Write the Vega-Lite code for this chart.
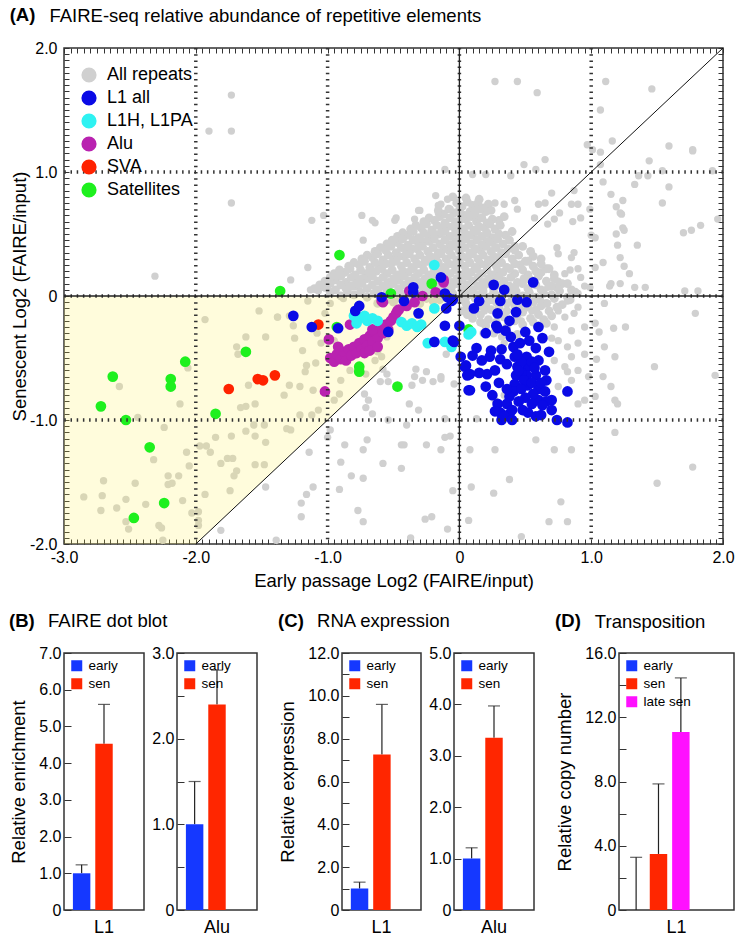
{
"$schema": "https://vega.github.io/schema/vega-lite/v6.json",
"padding": {"left": 9, "top": 5, "right": 1, "bottom": 0},
"datasets": {
"core": [
{"x":-0.05,"y":0.80},{"x":0.05,"y":0.79},{"x":0.15,"y":0.78},{"x":0.22,"y":0.74},
{"x":0.02,"y":0.72},{"x":0.10,"y":0.73},{"x":0.18,"y":0.71},
{"x":-0.02,"y":0.75},{"x":0.06,"y":0.76},{"x":0.14,"y":0.75},
{"x":-0.12,"y":0.66},{"x":-0.04,"y":0.67},{"x":0.04,"y":0.65},{"x":0.12,"y":0.66},{"x":0.20,"y":0.68},
{"x":-0.16,"y":0.69},{"x":-0.08,"y":0.70},{"x":0.00,"y":0.69},{"x":0.08,"y":0.68},{"x":0.16,"y":0.70},{"x":0.24,"y":0.69},
{"x":-0.27,"y":0.60},{"x":-0.19,"y":0.61},{"x":-0.11,"y":0.59},{"x":-0.03,"y":0.60},{"x":0.05,"y":0.62},{"x":0.13,"y":0.60},{"x":0.21,"y":0.59},{"x":0.30,"y":0.61},
{"x":-0.23,"y":0.63},{"x":-0.15,"y":0.64},{"x":-0.07,"y":0.63},{"x":0.01,"y":0.62},{"x":0.09,"y":0.64},{"x":0.17,"y":0.63},{"x":0.25,"y":0.62},{"x":0.34,"y":0.64},
{"x":-0.37,"y":0.54},{"x":-0.29,"y":0.55},{"x":-0.21,"y":0.53},{"x":-0.13,"y":0.54},{"x":-0.05,"y":0.56},{"x":0.03,"y":0.54},{"x":0.11,"y":0.53},{"x":0.19,"y":0.55},{"x":0.27,"y":0.54},
{"x":-0.33,"y":0.57},{"x":-0.25,"y":0.58},{"x":-0.17,"y":0.57},{"x":-0.09,"y":0.56},{"x":-0.01,"y":0.58},{"x":0.07,"y":0.57},{"x":0.15,"y":0.56},{"x":0.23,"y":0.58},{"x":0.31,"y":0.57},
{"x":-0.47,"y":0.48},{"x":-0.39,"y":0.49},{"x":-0.31,"y":0.47},{"x":-0.23,"y":0.48},{"x":-0.15,"y":0.50},{"x":-0.07,"y":0.48},{"x":0.01,"y":0.47},{"x":0.09,"y":0.49},{"x":0.17,"y":0.48},{"x":0.25,"y":0.47},{"x":0.35,"y":0.49},
{"x":-0.43,"y":0.51},{"x":-0.35,"y":0.52},{"x":-0.27,"y":0.51},{"x":-0.19,"y":0.50},{"x":-0.11,"y":0.52},{"x":-0.03,"y":0.51},{"x":0.05,"y":0.50},{"x":0.13,"y":0.52},{"x":0.21,"y":0.51},{"x":0.30,"y":0.50},{"x":0.40,"y":0.52},
{"x":-0.55,"y":0.42},{"x":-0.47,"y":0.43},{"x":-0.39,"y":0.41},{"x":-0.31,"y":0.42},{"x":-0.23,"y":0.44},{"x":-0.15,"y":0.42},{"x":-0.07,"y":0.41},{"x":0.01,"y":0.43},{"x":0.09,"y":0.42},{"x":0.17,"y":0.41},{"x":0.25,"y":0.43},{"x":0.33,"y":0.42},{"x":0.42,"y":0.40},
{"x":-0.51,"y":0.45},{"x":-0.43,"y":0.46},{"x":-0.35,"y":0.45},{"x":-0.27,"y":0.44},{"x":-0.19,"y":0.46},{"x":-0.11,"y":0.45},{"x":-0.03,"y":0.44},{"x":0.05,"y":0.46},{"x":0.13,"y":0.45},{"x":0.21,"y":0.44},{"x":0.29,"y":0.46},{"x":0.38,"y":0.45},
{"x":-0.64,"y":0.36},{"x":-0.56,"y":0.37},{"x":-0.48,"y":0.35},{"x":-0.40,"y":0.36},{"x":-0.32,"y":0.38},{"x":-0.24,"y":0.36},{"x":-0.16,"y":0.35},{"x":-0.08,"y":0.37},{"x":0.00,"y":0.36},{"x":0.08,"y":0.35},{"x":0.16,"y":0.37},{"x":0.24,"y":0.36},{"x":0.32,"y":0.35},{"x":0.42,"y":0.37},{"x":0.54,"y":0.36},
{"x":-0.60,"y":0.39},{"x":-0.52,"y":0.40},{"x":-0.44,"y":0.39},{"x":-0.36,"y":0.38},{"x":-0.28,"y":0.40},{"x":-0.20,"y":0.39},{"x":-0.12,"y":0.38},{"x":-0.04,"y":0.40},{"x":0.04,"y":0.39},{"x":0.12,"y":0.38},{"x":0.20,"y":0.40},{"x":0.28,"y":0.39},{"x":0.37,"y":0.38},{"x":0.48,"y":0.40},
{"x":-0.74,"y":0.30},{"x":-0.66,"y":0.31},{"x":-0.58,"y":0.29},{"x":-0.50,"y":0.30},{"x":-0.42,"y":0.32},{"x":-0.34,"y":0.30},{"x":-0.26,"y":0.29},{"x":-0.18,"y":0.31},{"x":-0.10,"y":0.30},{"x":-0.02,"y":0.29},{"x":0.06,"y":0.31},{"x":0.14,"y":0.30},{"x":0.22,"y":0.29},{"x":0.30,"y":0.31},{"x":0.40,"y":0.30},{"x":0.50,"y":0.28},{"x":0.62,"y":0.30},
{"x":-0.70,"y":0.33},{"x":-0.62,"y":0.34},{"x":-0.54,"y":0.33},{"x":-0.46,"y":0.32},{"x":-0.38,"y":0.34},{"x":-0.30,"y":0.33},{"x":-0.22,"y":0.32},{"x":-0.14,"y":0.34},{"x":-0.06,"y":0.33},{"x":0.02,"y":0.32},{"x":0.10,"y":0.34},{"x":0.18,"y":0.33},{"x":0.26,"y":0.32},{"x":0.35,"y":0.34},{"x":0.45,"y":0.33},{"x":0.56,"y":0.32},
{"x":-0.84,"y":0.24},{"x":-0.76,"y":0.25},{"x":-0.68,"y":0.23},{"x":-0.60,"y":0.24},{"x":-0.52,"y":0.26},{"x":-0.44,"y":0.24},{"x":-0.36,"y":0.23},{"x":-0.28,"y":0.25},{"x":-0.20,"y":0.24},{"x":-0.12,"y":0.23},{"x":-0.04,"y":0.25},{"x":0.04,"y":0.24},{"x":0.12,"y":0.23},{"x":0.20,"y":0.25},{"x":0.28,"y":0.24},{"x":0.36,"y":0.23},{"x":0.46,"y":0.25},{"x":0.56,"y":0.24},{"x":0.66,"y":0.22},
{"x":-0.80,"y":0.27},{"x":-0.72,"y":0.28},{"x":-0.64,"y":0.27},{"x":-0.56,"y":0.26},{"x":-0.48,"y":0.28},{"x":-0.40,"y":0.27},{"x":-0.32,"y":0.26},{"x":-0.24,"y":0.28},{"x":-0.16,"y":0.27},{"x":-0.08,"y":0.26},{"x":0.00,"y":0.28},{"x":0.08,"y":0.27},{"x":0.16,"y":0.26},{"x":0.24,"y":0.28},{"x":0.32,"y":0.27},{"x":0.42,"y":0.26},{"x":0.52,"y":0.28},{"x":0.62,"y":0.26},
{"x":-0.95,"y":0.18},{"x":-0.87,"y":0.19},{"x":-0.79,"y":0.17},{"x":-0.71,"y":0.18},{"x":-0.63,"y":0.20},{"x":-0.55,"y":0.18},{"x":-0.47,"y":0.17},{"x":-0.39,"y":0.19},{"x":-0.31,"y":0.18},{"x":-0.23,"y":0.17},{"x":-0.15,"y":0.19},{"x":-0.07,"y":0.18},{"x":0.01,"y":0.17},{"x":0.09,"y":0.19},{"x":0.17,"y":0.18},{"x":0.25,"y":0.17},{"x":0.33,"y":0.19},{"x":0.42,"y":0.18},{"x":0.52,"y":0.17},{"x":0.62,"y":0.19},{"x":0.72,"y":0.17},
{"x":-0.91,"y":0.21},{"x":-0.83,"y":0.22},{"x":-0.75,"y":0.21},{"x":-0.67,"y":0.20},{"x":-0.59,"y":0.22},{"x":-0.51,"y":0.21},{"x":-0.43,"y":0.20},{"x":-0.35,"y":0.22},{"x":-0.27,"y":0.21},{"x":-0.19,"y":0.20},{"x":-0.11,"y":0.22},{"x":-0.03,"y":0.21},{"x":0.05,"y":0.20},{"x":0.13,"y":0.22},{"x":0.21,"y":0.21},{"x":0.29,"y":0.20},{"x":0.38,"y":0.22},{"x":0.48,"y":0.21},{"x":0.58,"y":0.20},{"x":0.68,"y":0.22},
{"x":-1.02,"y":0.12},{"x":-0.94,"y":0.13},{"x":-0.86,"y":0.11},{"x":-0.78,"y":0.12},{"x":-0.70,"y":0.14},{"x":-0.62,"y":0.12},{"x":-0.54,"y":0.11},{"x":-0.46,"y":0.13},{"x":-0.38,"y":0.12},{"x":-0.30,"y":0.11},{"x":-0.22,"y":0.13},{"x":-0.14,"y":0.12},{"x":-0.06,"y":0.11},{"x":0.02,"y":0.13},{"x":0.10,"y":0.12},{"x":0.18,"y":0.11},{"x":0.26,"y":0.13},{"x":0.34,"y":0.12},{"x":0.44,"y":0.11},{"x":0.54,"y":0.13},{"x":0.66,"y":0.12},{"x":0.78,"y":0.10},
{"x":-0.98,"y":0.15},{"x":-0.90,"y":0.16},{"x":-0.82,"y":0.15},{"x":-0.74,"y":0.14},{"x":-0.66,"y":0.16},{"x":-0.58,"y":0.15},{"x":-0.50,"y":0.14},{"x":-0.42,"y":0.16},{"x":-0.34,"y":0.15},{"x":-0.26,"y":0.14},{"x":-0.18,"y":0.16},{"x":-0.10,"y":0.15},{"x":-0.02,"y":0.14},{"x":0.06,"y":0.16},{"x":0.14,"y":0.15},{"x":0.22,"y":0.14},{"x":0.30,"y":0.16},{"x":0.39,"y":0.15},{"x":0.49,"y":0.14},{"x":0.60,"y":0.16},{"x":0.72,"y":0.14},
{"x":-1.10,"y":0.06},{"x":-1.02,"y":0.07},{"x":-0.94,"y":0.05},{"x":-0.86,"y":0.06},{"x":-0.78,"y":0.08},{"x":-0.70,"y":0.06},{"x":-0.62,"y":0.05},{"x":-0.54,"y":0.07},{"x":-0.46,"y":0.06},{"x":-0.38,"y":0.05},{"x":-0.30,"y":0.07},{"x":-0.22,"y":0.06},{"x":-0.14,"y":0.05},{"x":-0.06,"y":0.07},{"x":0.02,"y":0.06},{"x":0.10,"y":0.05},{"x":0.18,"y":0.07},{"x":0.26,"y":0.06},{"x":0.34,"y":0.05},{"x":0.42,"y":0.07},{"x":0.52,"y":0.06},{"x":0.62,"y":0.05},{"x":0.74,"y":0.07},{"x":0.85,"y":0.05},
{"x":-1.06,"y":0.09},{"x":-0.98,"y":0.10},{"x":-0.90,"y":0.09},{"x":-0.82,"y":0.08},{"x":-0.74,"y":0.10},{"x":-0.66,"y":0.09},{"x":-0.58,"y":0.08},{"x":-0.50,"y":0.10},{"x":-0.42,"y":0.09},{"x":-0.34,"y":0.08},{"x":-0.26,"y":0.10},{"x":-0.18,"y":0.09},{"x":-0.10,"y":0.08},{"x":-0.02,"y":0.10},{"x":0.06,"y":0.09},{"x":0.14,"y":0.08},{"x":0.22,"y":0.10},{"x":0.30,"y":0.09},{"x":0.38,"y":0.08},{"x":0.48,"y":0.10},{"x":0.58,"y":0.09},{"x":0.70,"y":0.08},{"x":0.82,"y":0.10},
{"x":-0.90,"y":0.00},{"x":-0.80,"y":0.01},{"x":-0.70,"y":-0.01},{"x":-0.60,"y":0.00},{"x":-0.50,"y":0.02},{"x":-0.40,"y":0.00},{"x":-0.30,"y":-0.01},{"x":-0.20,"y":0.01},{"x":-0.10,"y":0.00},{"x":0.06,"y":0.00},{"x":0.14,"y":0.01},{"x":0.22,"y":-0.01},{"x":0.30,"y":0.00},{"x":0.38,"y":0.02},{"x":0.48,"y":0.00},{"x":0.58,"y":-0.01},{"x":0.70,"y":0.01},{"x":0.82,"y":-0.01},
{"x":-0.98,"y":0.03},{"x":-0.85,"y":0.04},{"x":-0.75,"y":0.03},{"x":-0.65,"y":0.02},{"x":-0.55,"y":0.04},{"x":-0.45,"y":0.03},{"x":-0.35,"y":0.02},{"x":-0.25,"y":0.04},{"x":-0.15,"y":0.03},{"x":-0.05,"y":0.02},{"x":0.04,"y":0.03},{"x":0.10,"y":0.02},{"x":0.18,"y":0.04},{"x":0.26,"y":0.03},{"x":0.34,"y":0.02},{"x":0.43,"y":0.04},{"x":0.53,"y":0.03},{"x":0.64,"y":0.02},{"x":0.76,"y":0.04},{"x":0.88,"y":0.03},
{"x":-0.62,"y":-0.06},{"x":-0.50,"y":-0.05},{"x":-0.40,"y":-0.07},{"x":-0.30,"y":-0.06},{"x":-0.20,"y":-0.04},{"x":0.05,"y":-0.06},{"x":0.20,"y":-0.07},{"x":0.28,"y":-0.05},{"x":0.36,"y":-0.06},{"x":0.46,"y":-0.07},{"x":0.56,"y":-0.05},{"x":0.66,"y":-0.06},{"x":0.78,"y":-0.07},
{"x":-0.55,"y":-0.03},{"x":-0.45,"y":-0.02},{"x":-0.35,"y":-0.03},{"x":-0.25,"y":-0.02},{"x":-0.15,"y":-0.03},{"x":0.02,"y":-0.03},{"x":0.12,"y":-0.02},{"x":0.24,"y":-0.03},{"x":0.32,"y":-0.02},{"x":0.40,"y":-0.03},{"x":0.50,"y":-0.02},{"x":0.61,"y":-0.03},{"x":0.72,"y":-0.02},{"x":0.84,"y":-0.03},
{"x":0.02,"y":-0.12},{"x":0.10,"y":-0.13},{"x":0.24,"y":-0.11},{"x":0.36,"y":-0.12},{"x":0.48,"y":-0.13},{"x":0.58,"y":-0.11},{"x":0.68,"y":-0.12},
{"x":0.06,"y":-0.09},{"x":0.16,"y":-0.08},{"x":0.30,"y":-0.09},{"x":0.42,"y":-0.08},{"x":0.52,"y":-0.09},{"x":0.62,"y":-0.08},{"x":0.74,"y":-0.09},
{"x":0.10,"y":-0.18},{"x":0.22,"y":-0.19},{"x":0.34,"y":-0.17},{"x":0.54,"y":-0.18},{"x":0.64,"y":-0.19},
{"x":0.06,"y":-0.15},{"x":0.16,"y":-0.15},{"x":0.28,"y":-0.14},{"x":0.44,"y":-0.15},{"x":0.60,"y":-0.15},{"x":0.70,"y":-0.16},
{"x":0.20,"y":-0.24},{"x":0.36,"y":-0.25},{"x":0.48,"y":-0.23},{"x":0.60,"y":-0.24},
{"x":0.16,"y":-0.21},{"x":0.28,"y":-0.21},{"x":0.42,"y":-0.20},{"x":0.56,"y":-0.21},{"x":0.66,"y":-0.22},
{"x":0.26,"y":-0.30},{"x":0.44,"y":-0.31}
],
"all": [
{"x":-1.73,"y":1.62},{"x":-1.90,"y":1.33},{"x":-1.73,"y":1.33},{"x":-1.73,"y":0.75},{"x":-2.31,"y":0.16},{"x":-0.11,"y":1.02},{"x":-0.18,"y":0.81},{"x":-0.31,"y":0.69},{"x":-0.16,"y":0.67},{"x":-0.74,"y":0.65},{"x":-0.66,"y":0.61},{"x":-0.48,"y":0.63},{"x":-1.03,"y":0.65},{"x":-1.12,"y":0.61},{"x":-0.73,"y":0.45},{"x":-1.15,"y":0.23},{"x":-1.28,"y":0.13},{"x":-0.64,"y":0.59},{"x":-0.49,"y":0.61},{"x":-0.34,"y":0.62},{"x":-0.09,"y":0.78},{"x":-0.14,"y":0.74},{"x":-0.07,"y":0.70},{"x":-0.30,"y":0.69},{"x":-0.25,"y":0.58},
{"x":-1.13,"y":0.05},{"x":-1.07,"y":0.04},{"x":-1.01,"y":0.07},
{"x":0.49,"y":1.06},{"x":0.58,"y":1.02},{"x":0.65,"y":1.10},{"x":0.10,"y":0.98},{"x":0.20,"y":0.98},{"x":0.39,"y":0.97},{"x":1.07,"y":1.06},{"x":1.09,"y":0.92},{"x":1.33,"y":0.90},{"x":1.36,"y":0.97},{"x":1.43,"y":0.97},{"x":1.44,"y":1.09},{"x":1.54,"y":1.01},{"x":1.59,"y":0.88},{"x":1.92,"y":1.01},{"x":1.77,"y":1.17},{"x":1.15,"y":0.82},{"x":1.24,"y":0.77},{"x":1.19,"y":0.72},{"x":1.22,"y":0.67},{"x":1.23,"y":0.66},{"x":1.54,"y":0.75},{"x":1.70,"y":0.51},{"x":1.76,"y":0.53},{"x":1.83,"y":0.57},{"x":1.96,"y":0.62},{"x":1.00,"y":0.49},{"x":1.03,"y":0.47},{"x":1.24,"y":0.55},{"x":1.25,"y":0.53},{"x":1.19,"y":0.50},{"x":1.35,"y":0.41},{"x":1.20,"y":0.41},{"x":1.09,"y":0.27},{"x":1.22,"y":0.31},{"x":1.25,"y":0.24},{"x":1.29,"y":0.18},{"x":1.14,"y":0.08},{"x":1.22,"y":0.10},{"x":1.33,"y":0.07},{"x":1.41,"y":0.07},{"x":1.71,"y":0.04},{"x":1.81,"y":0.04},
{"x":0.27,"y":1.73},{"x":0.44,"y":1.73},{"x":0.59,"y":1.64},{"x":1.11,"y":1.73},{"x":1.46,"y":1.67},{"x":1.07,"y":1.50},{"x":0.97,"y":1.22},{"x":1.01,"y":1.18},{"x":1.07,"y":1.16},{"x":1.16,"y":1.25},{"x":1.59,"y":1.21},{"x":1.77,"y":1.18},
{"x":0.70,"y":0.83},{"x":0.87,"y":0.85},{"x":0.85,"y":0.74},{"x":0.90,"y":0.74},{"x":0.99,"y":0.70},{"x":0.92,"y":0.63},{"x":0.86,"y":0.60},{"x":0.76,"y":0.67},{"x":0.57,"y":0.63},{"x":0.67,"y":0.58},{"x":0.72,"y":0.62},{"x":0.74,"y":0.39},{"x":0.75,"y":0.34},{"x":0.85,"y":0.31},{"x":0.87,"y":0.35},{"x":0.80,"y":0.18},{"x":0.90,"y":0.22},{"x":0.95,"y":0.08},{"x":0.27,"y":0.75},{"x":0.34,"y":0.74},{"x":0.42,"y":0.77},{"x":0.44,"y":0.70},{"x":0.60,"y":0.74},{"x":0.65,"y":0.75},{"x":0.12,"y":0.69},{"x":0.08,"y":0.65},{"x":-0.16,"y":0.73},
{"x":0.67,"y":-0.06},{"x":0.75,"y":-0.12},{"x":0.80,"y":-0.17},{"x":0.87,"y":-0.14},{"x":0.90,"y":-0.09},{"x":0.72,"y":-0.25},{"x":0.85,"y":-0.28},{"x":0.95,"y":-0.25},{"x":1.03,"y":-0.22},{"x":1.06,"y":-0.29},{"x":0.75,"y":-0.36},{"x":0.82,"y":-0.41},{"x":0.90,"y":-0.38},{"x":0.85,"y":-0.49},{"x":0.95,"y":-0.47},{"x":0.72,"y":-0.52},{"x":0.80,"y":-0.57},{"x":0.90,"y":-0.60},{"x":0.85,"y":-0.68},{"x":0.98,"y":-0.65},{"x":0.75,"y":-0.73},{"x":1.03,"y":-0.81},{"x":1.15,"y":-0.73},{"x":1.10,"y":-0.41},{"x":1.17,"y":-0.26},{"x":1.18,"y":-0.49},{"x":0.99,"y":0.07},{"x":0.90,"y":0.02},{"x":0.82,"y":-0.04},{"x":0.72,"y":-0.01},{"x":0.67,"y":0.07},{"x":0.60,"y":0.18},{"x":0.75,"y":0.12},{"x":0.84,"y":0.21},{"x":0.92,"y":0.15},{"x":1.03,"y":0.23},{"x":1.15,"y":0.10},{"x":1.10,"y":-0.06},{"x":0.70,"y":-0.34},{"x":0.55,"y":-0.12},{"x":0.47,"y":-0.20},{"x":0.19,"y":-0.12},{"x":0.17,"y":-0.22},{"x":0.18,"y":-0.30},{"x":0.32,"y":-0.33},{"x":0.34,"y":-0.38},{"x":-0.14,"y":-0.65},{"x":-0.04,"y":-0.71},{"x":-0.11,"y":-1.14},{"x":0.90,"y":-0.87},{"x":0.95,"y":-0.84},{"x":1.18,"y":-0.84},{"x":0.27,"y":-0.84},{"x":0.34,"y":-0.80},
{"x":1.79,"y":-0.14},{"x":1.26,"y":-0.25},{"x":1.48,"y":-0.57},{"x":1.94,"y":-0.64},{"x":1.09,"y":-0.65},{"x":1.20,"y":-0.87},{"x":1.04,"y":-0.51},{"x":0.82,"y":-0.61},
{"x":1.18,"y":-1.10},{"x":0.58,"y":-1.16},{"x":0.72,"y":-1.24},{"x":0.85,"y":-1.24},{"x":0.08,"y":-1.24},{"x":0.27,"y":-1.24},{"x":-0.14,"y":-1.24},{"x":-0.07,"y":-1.13},{"x":0.13,"y":-0.99},{"x":0.38,"y":-1.48},{"x":0.09,"y":-1.54},{"x":-0.05,"y":-1.57},{"x":0.26,"y":-1.59},{"x":1.77,"y":-1.38},{"x":1.50,"y":-1.51},{"x":0.77,"y":-1.66},{"x":0.68,"y":-1.82},{"x":0.82,"y":-1.82},{"x":0.07,"y":-1.81},{"x":-0.09,"y":-1.88},{"x":0.47,"y":-1.94},
{"x":-1.29,"y":-0.16},{"x":-1.26,"y":-0.24},{"x":-1.19,"y":-0.44},{"x":-1.25,"y":-0.34},{"x":-1.38,"y":-0.17},{"x":-1.17,"y":-0.61},{"x":-1.16,"y":-0.56},{"x":-1.09,"y":-0.54},{"x":-1.29,"y":-0.72},{"x":-1.21,"y":-0.73},{"x":-1.33,"y":-0.80},{"x":-1.11,"y":-0.76},{"x":-1.07,"y":-0.92},{"x":-1.12,"y":-0.96},{"x":-1.21,"y":-0.96},{"x":-1.31,"y":-1.07},{"x":-1.28,"y":-1.08},{"x":-0.90,"y":-0.68},{"x":-0.83,"y":-0.60},{"x":-0.95,"y":-0.84},{"x":-0.91,"y":-0.79},{"x":-1.05,"y":-0.38},{"x":-0.92,"y":-0.45},{"x":-0.85,"y":-0.52},{"x":-0.64,"y":-0.52},{"x":-0.59,"y":-0.49},{"x":-0.62,"y":-0.45},{"x":-0.71,"y":-0.63},{"x":-0.58,"y":-0.59},{"x":-0.55,"y":-0.33},{"x":-0.72,"y":-0.79},{"x":-0.69,"y":-0.84},{"x":-0.71,"y":-0.90},{"x":-0.60,"y":-0.69},{"x":-0.54,"y":-0.69},{"x":-0.66,"y":-0.95},{"x":-0.54,"y":-1.00},{"x":-0.40,"y":-1.04},{"x":-0.55,"y":-0.63},{"x":-0.38,"y":-0.87},{"x":-0.31,"y":-0.92},{"x":-0.33,"y":-0.59},{"x":-0.25,"y":-0.61},{"x":-0.34,"y":-0.65},{"x":-0.28,"y":-0.68},{"x":-0.20,"y":-0.69},{"x":-0.14,"y":-0.67},{"x":-0.36,"y":-0.72},{"x":-0.11,"y":-0.99},{"x":-0.25,"y":-1.20},{"x":-0.44,"y":-1.20},{"x":-0.42,"y":-1.20},{"x":-0.70,"y":-1.16},{"x":-0.87,"y":-1.20},{"x":-0.73,"y":-1.24},{"x":-1.14,"y":-1.26},{"x":-0.58,"y":-1.35},{"x":-0.44,"y":-1.39},{"x":-0.90,"y":-1.34},{"x":-0.82,"y":-1.45},{"x":-0.73,"y":-1.47},{"x":-0.91,"y":-1.56},{"x":-1.11,"y":-1.54},{"x":-1.16,"y":-1.60},{"x":-1.20,"y":-1.67},{"x":-1.20,"y":-1.78},{"x":-0.77,"y":-1.73},{"x":-0.73,"y":-1.82},{"x":-0.26,"y":-1.80},{"x":-0.21,"y":-1.78},{"x":-0.37,"y":-1.95},{"x":-1.39,"y":-1.97},{"x":-1.00,"y":-1.14},{"x":-0.98,"y":-1.08},
{"x":-1.15,"y":-0.04},{"x":-1.02,"y":-0.14},{"x":-0.98,"y":-0.06},{"x":-0.88,"y":-0.02},{"x":-1.08,"y":-0.30},{"x":-0.95,"y":-0.36},{"x":-0.10,"y":-0.47},
{"x":-1.52,"y":-0.12},{"x":-1.93,"y":-0.19},{"x":-1.62,"y":-0.33},{"x":-1.47,"y":-0.33},{"x":-1.69,"y":-0.41},{"x":-1.68,"y":-0.47},{"x":-2.58,"y":-0.73},{"x":-1.60,"y":-0.72},{"x":-2.12,"y":-0.87},{"x":-1.66,"y":-0.90},{"x":-1.62,"y":-0.89},{"x":-1.55,"y":-0.87},{"x":-2.44,"y":-0.98},{"x":-2.24,"y":-1.06},{"x":-1.85,"y":-1.14},{"x":-1.73,"y":-1.13},{"x":-1.62,"y":-1.09},{"x":-1.56,"y":-1.04},{"x":-1.55,"y":-1.13},{"x":-1.47,"y":-1.18},{"x":-1.48,"y":-1.04},{"x":-1.97,"y":-1.21},{"x":-1.92,"y":-1.21},{"x":-1.89,"y":-1.26},{"x":-2.07,"y":-1.26},{"x":-2.32,"y":-1.32},{"x":-1.81,"y":-1.35},{"x":-1.76,"y":-1.31},{"x":-1.72,"y":-1.31},{"x":-1.55,"y":-1.36},{"x":-1.48,"y":-1.36},{"x":-2.05,"y":-1.37},{"x":-1.69,"y":-1.41},{"x":-1.71,"y":-1.45},{"x":-2.70,"y":-1.49},{"x":-2.21,"y":-1.45},{"x":-2.13,"y":-1.45},{"x":-2.21,"y":-1.52},{"x":-2.18,"y":-1.51},{"x":-2.46,"y":-1.51},{"x":-2.85,"y":-1.62},{"x":-2.71,"y":-1.61},{"x":-2.53,"y":-1.64},{"x":-2.72,"y":-1.73},{"x":-2.60,"y":-1.71},{"x":-2.38,"y":-1.68},{"x":-2.10,"y":-1.65},{"x":-1.93,"y":-1.60},{"x":-1.74,"y":-1.57},{"x":-2.03,"y":-1.75},{"x":-1.98,"y":-1.74},{"x":-1.98,"y":-1.81},{"x":-1.98,"y":-1.85},{"x":-2.28,"y":-1.85},{"x":-2.26,"y":-1.87},{"x":-2.53,"y":-1.82},{"x":-2.51,"y":-1.88},{"x":-2.25,"y":-1.97},{"x":-1.47,"y":-1.54},{"x":-1.81,"y":-1.89},{"x":-2.06,"y":-0.58},{"x":-1.38,"y":-0.17}
],
"fam": [
{"t":"Satellites","x":-2.63,"y":-0.65},{"t":"Satellites","x":-2.08,"y":-0.53},{"t":"Satellites","x":-2.19,"y":-0.67},{"t":"Satellites","x":-2.19,"y":-0.73},{"t":"Satellites","x":-2.72,"y":-0.89},{"t":"Satellites","x":-2.53,"y":-1.00},{"t":"Satellites","x":-2.35,"y":-1.22},{"t":"Satellites","x":-2.24,"y":-1.67},{"t":"Satellites","x":-2.47,"y":-1.79},{"t":"Satellites","x":-1.62,"y":-0.45},{"t":"Satellites","x":-1.85,"y":-0.95},{"t":"Satellites","x":-1.36,"y":0.04},{"t":"Satellites","x":-0.93,"y":-0.25},{"t":"Satellites","x":-0.76,"y":-0.57},{"t":"Satellites","x":-0.76,"y":-0.61},{"t":"Satellites","x":-0.47,"y":-0.73},{"t":"Satellites","x":-0.52,"y":0.02},{"t":"Satellites","x":-0.21,"y":0.10},{"t":"Satellites","x":0.07,"y":-0.27},{"t":"Satellites","x":-0.91,"y":0.33},
{"t":"SVA","x":-1.75,"y":-0.75},{"t":"SVA","x":-1.53,"y":-0.67},{"t":"SVA","x":-1.49,"y":-0.68},{"t":"SVA","x":-1.40,"y":-0.64},{"t":"SVA","x":-1.07,"y":-0.23},
{"t":"Alu","x":-1.02,"y":-0.77},{"t":"Alu","x":-0.99,"y":-0.35},{"t":"Alu","x":-0.83,"y":-0.23},{"t":"Alu","x":-0.59,"y":-0.04},{"t":"Alu","x":-0.38,"y":0.04},{"t":"Alu","x":-0.34,"y":-0.05},{"t":"Alu","x":-0.28,"y":0.00},{"t":"Alu","x":-0.18,"y":0.03},{"t":"Alu","x":-0.12,"y":0.11},{"t":"Alu","x":-0.12,"y":0.13},{"t":"Alu","x":-0.58,"y":-0.05},{"t":"Alu","x":-0.47,"y":-0.12},{"t":"Alu","x":-0.40,"y":-0.08},
{"t":"Alu","x":-0.98,"y":-0.50},{"t":"Alu","x":-0.95,"y":-0.53},{"t":"Alu","x":-0.93,"y":-0.47},{"t":"Alu","x":-0.90,"y":-0.51},{"t":"Alu","x":-0.88,"y":-0.45},{"t":"Alu","x":-0.86,"y":-0.52},{"t":"Alu","x":-0.84,"y":-0.43},{"t":"Alu","x":-0.82,"y":-0.48},{"t":"Alu","x":-0.80,"y":-0.41},{"t":"Alu","x":-0.78,"y":-0.46},{"t":"Alu","x":-0.76,"y":-0.38},{"t":"Alu","x":-0.74,"y":-0.43},{"t":"Alu","x":-0.72,"y":-0.35},{"t":"Alu","x":-0.70,"y":-0.40},{"t":"Alu","x":-0.68,"y":-0.32},{"t":"Alu","x":-0.66,"y":-0.37},{"t":"Alu","x":-0.64,"y":-0.29},{"t":"Alu","x":-0.62,"y":-0.34},{"t":"Alu","x":-0.60,"y":-0.26},{"t":"Alu","x":-0.58,"y":-0.30},{"t":"Alu","x":-0.56,"y":-0.23},{"t":"Alu","x":-0.54,"y":-0.27},{"t":"Alu","x":-0.52,"y":-0.20},{"t":"Alu","x":-0.50,"y":-0.17},{"t":"Alu","x":-0.48,"y":-0.14},{"t":"Alu","x":-0.46,"y":-0.11},{"t":"Alu","x":-0.72,"y":-0.46},{"t":"Alu","x":-0.68,"y":-0.44},{"t":"Alu","x":-0.92,"y":-0.41},{"t":"Alu","x":-0.62,"y":-0.41},{"t":"Alu","x":-0.66,"y":-0.27},
{"t":"L1H, L1PA","x":-0.80,"y":-0.16},{"t":"L1H, L1PA","x":-0.76,"y":-0.18},{"t":"L1H, L1PA","x":-0.72,"y":-0.16},{"t":"L1H, L1PA","x":-0.70,"y":-0.20},{"t":"L1H, L1PA","x":-0.66,"y":-0.18},{"t":"L1H, L1PA","x":-0.62,"y":-0.20},{"t":"L1H, L1PA","x":-0.78,"y":-0.22},{"t":"L1H, L1PA","x":-0.44,"y":-0.21},{"t":"L1H, L1PA","x":-0.40,"y":-0.24},{"t":"L1H, L1PA","x":-0.36,"y":-0.22},{"t":"L1H, L1PA","x":-0.32,"y":-0.25},{"t":"L1H, L1PA","x":-0.29,"y":-0.23},{"t":"L1H, L1PA","x":-0.24,"y":-0.38},{"t":"L1H, L1PA","x":-0.11,"y":-0.37},{"t":"L1H, L1PA","x":-0.06,"y":-0.41},{"t":"L1H, L1PA","x":-0.19,"y":-0.10},{"t":"L1H, L1PA","x":-0.19,"y":0.25},{"t":"L1H, L1PA","x":0.09,"y":-0.29},{"t":"L1H, L1PA","x":0.07,"y":-0.31},
{"t":"L1 all","x":0.26,"y":0.09},{"t":"L1 all","x":0.34,"y":0.05},{"t":"L1 all","x":0.56,"y":0.11},{"t":"L1 all","x":0.15,"y":-0.04},{"t":"L1 all","x":0.11,"y":-0.10},{"t":"L1 all","x":0.31,"y":-0.04},{"t":"L1 all","x":0.44,"y":-0.03},{"t":"L1 all","x":0.51,"y":-0.05},{"t":"L1 all","x":0.29,"y":-0.14},{"t":"L1 all","x":0.43,"y":-0.13},{"t":"L1 all","x":0.38,"y":-0.20},{"t":"L1 all","x":0.28,"y":-0.24},{"t":"L1 all","x":0.29,"y":-0.26},{"t":"L1 all","x":0.60,"y":-0.25},{"t":"L1 all","x":0.50,"y":-0.29},{"t":"L1 all","x":0.39,"y":-0.33},{"t":"L1 all","x":0.63,"y":-0.34},{"t":"L1 all","x":0.53,"y":-0.36},{"t":"L1 all","x":0.41,"y":-0.41},{"t":"L1 all","x":0.58,"y":-0.42},{"t":"L1 all","x":0.13,"y":-0.42},{"t":"L1 all","x":0.24,"y":-0.44},{"t":"L1 all","x":0.32,"y":-0.43},{"t":"L1 all","x":0.10,"y":-0.48},{"t":"L1 all","x":0.17,"y":-0.52},{"t":"L1 all","x":0.23,"y":-0.49},{"t":"L1 all","x":0.31,"y":-0.51},{"t":"L1 all","x":0.42,"y":-0.49},{"t":"L1 all","x":0.51,"y":-0.49},{"t":"L1 all","x":0.60,"y":-0.52},{"t":"L1 all","x":0.44,"y":-0.57},{"t":"L1 all","x":0.52,"y":-0.57},{"t":"L1 all","x":0.65,"y":-0.60},{"t":"L1 all","x":0.43,"y":-0.64},{"t":"L1 all","x":0.51,"y":-0.64},{"t":"L1 all","x":0.58,"y":-0.64},{"t":"L1 all","x":0.66,"y":-0.68},{"t":"L1 all","x":0.42,"y":-0.71},{"t":"L1 all","x":0.52,"y":-0.72},{"t":"L1 all","x":0.60,"y":-0.75},{"t":"L1 all","x":0.65,"y":-0.77},{"t":"L1 all","x":0.82,"y":-0.77},{"t":"L1 all","x":0.41,"y":-0.77},{"t":"L1 all","x":0.20,"y":-0.73},{"t":"L1 all","x":0.21,"y":-0.63},{"t":"L1 all","x":0.08,"y":-0.76},{"t":"L1 all","x":0.06,"y":-0.64},{"t":"L1 all","x":0.04,"y":-0.57},{"t":"L1 all","x":0.01,"y":-0.49},{"t":"L1 all","x":0.38,"y":-0.81},{"t":"L1 all","x":0.60,"y":-0.84},{"t":"L1 all","x":0.70,"y":-0.84},{"t":"L1 all","x":0.29,"y":-0.87},{"t":"L1 all","x":0.36,"y":-0.87},{"t":"L1 all","x":0.31,"y":-0.94},{"t":"L1 all","x":0.38,"y":-0.95},{"t":"L1 all","x":0.32,"y":-1.00},{"t":"L1 all","x":0.52,"y":-0.94},{"t":"L1 all","x":0.58,"y":-0.97},{"t":"L1 all","x":0.62,"y":-0.96},{"t":"L1 all","x":0.74,"y":-1.00},{"t":"L1 all","x":0.82,"y":-1.02},{"t":"L1 all","x":0.47,"y":-0.53},{"t":"L1 all","x":0.47,"y":-0.62},{"t":"L1 all","x":0.55,"y":-0.53},{"t":"L1 all","x":0.45,"y":-0.60},{"t":"L1 all","x":0.49,"y":-0.68},{"t":"L1 all","x":0.55,"y":-0.70},{"t":"L1 all","x":0.47,"y":-0.75},{"t":"L1 all","x":0.56,"y":-0.79},{"t":"L1 all","x":0.50,"y":-0.82},{"t":"L1 all","x":0.45,"y":-0.85},{"t":"L1 all","x":0.55,"y":-0.87},{"t":"L1 all","x":0.62,"y":-0.70},{"t":"L1 all","x":0.57,"y":-0.58},{"t":"L1 all","x":0.40,"y":-0.92},{"t":"L1 all","x":0.34,"y":-0.97},
{"t":"L1 all","x":0.20,"y":-0.30},{"t":"L1 all","x":0.35,"y":-0.28},{"t":"L1 all","x":0.46,"y":-0.38},{"t":"L1 all","x":0.36,"y":-0.55},{"t":"L1 all","x":0.27,"y":-0.60},{"t":"L1 all","x":0.30,"y":-0.70},{"t":"L1 all","x":0.36,"y":-0.75},{"t":"L1 all","x":0.44,"y":-0.47},{"t":"L1 all","x":0.66,"y":-0.85},{"t":"L1 all","x":0.68,"y":-0.45},{"t":"L1 all","x":0.15,"y":-0.62},{"t":"L1 all","x":0.25,"y":-0.80},{"t":"L1 all","x":0.63,"y":-0.88},{"t":"L1 all","x":0.70,"y":-0.92},{"t":"L1 all","x":0.48,"y":-0.92},{"t":"L1 all","x":0.40,"y":-1.00},{"t":"L1 all","x":0.27,"y":-0.93},
{"t":"L1 all","x":-0.11,"y":-0.24},{"t":"L1 all","x":0.00,"y":-0.24},{"t":"L1 all","x":-0.10,"y":-0.10},{"t":"L1 all","x":-0.09,"y":-0.01},{"t":"L1 all","x":-0.05,"y":-0.36},{"t":"L1 all","x":-1.26,"y":-0.16},{"t":"L1 all","x":-1.12,"y":-0.25},{"t":"L1 all","x":-0.92,"y":-0.26},{"t":"L1 all","x":-0.79,"y":-0.12},{"t":"L1 all","x":-0.76,"y":-0.08},{"t":"L1 all","x":-0.59,"y":-0.01},{"t":"L1 all","x":-0.54,"y":-0.29},{"t":"L1 all","x":-0.42,"y":-0.04},{"t":"L1 all","x":-0.35,"y":0.03},{"t":"L1 all","x":-0.31,"y":-0.14},{"t":"L1 all","x":-0.11,"y":0.02},{"t":"L1 all","x":-0.06,"y":-0.04},{"t":"L1 all","x":-0.19,"y":-0.37},{"t":"L1 all","x":-0.04,"y":-0.37},{"t":"L1 all","x":0.05,"y":-0.56},{"t":"L1 all","x":0.08,"y":-0.63},{"t":"L1 all","x":0.07,"y":-0.76},{"t":"L1 all","x":-0.35,"y":0.07},{"t":"L1 all","x":-0.14,"y":0.15},{"t":"L1 all","x":-0.05,"y":-0.03}
],
"shade": [{"x":-3,"y":0,"y2":-2},{"x":-2,"y":0,"y2":-2},{"x":0,"y":0,"y2":0}],
"diag": [{"x":-2,"y":-2,"x2":2,"y2":2}],
"vg": [{"x":-2},{"x":-1},{"x":0},{"x":1}],
"hg": [{"y":1},{"y":0},{"y":-1}],
"bars": [
{"p":"B1","rep":"L1","cond":"early","v":1.0,"hi":1.23},
{"p":"B1","rep":"L1","cond":"sen","v":4.53,"hi":5.6},
{"p":"B2","rep":"Alu","cond":"early","v":1.0,"hi":1.5},
{"p":"B2","rep":"Alu","cond":"sen","v":2.4,"hi":2.8},
{"p":"C1","rep":"L1","cond":"early","v":1.0,"hi":1.3},
{"p":"C1","rep":"L1","cond":"sen","v":7.26,"hi":9.6},
{"p":"C2","rep":"Alu","cond":"early","v":1.0,"hi":1.21},
{"p":"C2","rep":"Alu","cond":"sen","v":3.35,"hi":3.97},
{"p":"D","rep":"L1","cond":"early","v":0,"hi":3.28},
{"p":"D","rep":"L1","cond":"sen","v":3.49,"hi":7.85},
{"p":"D","rep":"L1","cond":"late sen","v":11.08,"hi":14.45}
]
},
"spacing": 20,
"resolve": {"scale": {"color": "independent"}, "legend": {"color": "independent"}},
"vconcat": [
{
"title": {"text": "(A)", "offset": -18.5},
"vconcat": [
{
"width": 659, "height": 496,
"title": {"text": "FAIRE-seq relative abundance of repetitive elements", "fontWeight": "normal", "dx": 39, "offset": 15},
"resolve": {"axis": {"x": "independent", "y": "independent"}},
"layer": [
{"data": {"name": "core"}, "mark": {"type": "circle", "size": 78, "opacity": 1},
 "encoding": {
  "x": {"field": "x", "type": "quantitative", "scale": {"domain": [-3, 2], "nice": false, "zero": false}, "axis": null},
  "y": {"field": "y", "type": "quantitative", "scale": {"domain": [-2, 2], "nice": false, "zero": false}, "axis": null},
  "color": {"datum": "All repeats", "type": "nominal",
            "scale": {"domain": ["All repeats", "L1 all", "L1H, L1PA", "Alu", "SVA", "Satellites"], "range": ["#d0d0d0", "#0a0ae6", "#2ef2f2", "#b922b0", "#ff2200", "#1ef01e"]},
            "legend": {"orient": "none", "legendX": 16, "legendY": 18, "title": null, "symbolSize": 230, "symbolType": "circle", "labelFontSize": 18, "rowPadding": 5, "labelOffset": 9, "symbolStrokeWidth": 0, "symbolOpacity": 1, "padding": 0}}
 }},
{"data": {"name": "all"}, "mark": {"type": "circle", "size": 54, "opacity": 1},
 "encoding": {
  "x": {"field": "x", "type": "quantitative", "scale": {"domain": [-3, 2], "nice": false, "zero": false},
        "axis": {"orient": "bottom", "tickCount": 100, "tickSize": -5, "labelPadding": 10, "labelFlush": false, "labelOverlap": false,
                 "labelExpr": "abs(datum.value - round(datum.value)) < 0.001 ? (abs(datum.value) < 0.001 ? '0' : (datum.value < 0 ? '-' : '') + format(abs(round(datum.value)), '.1f')) : ''",
                 "title": "Early passage Log2 (FAIRE/input)", "titlePadding": 6}},
  "y": {"field": "y", "type": "quantitative", "scale": {"domain": [-2, 2], "nice": false, "zero": false},
        "axis": {"orient": "left", "tickCount": 80, "tickSize": -5, "labelPadding": 12, "labelFlush": false, "labelOverlap": false,
                 "labelExpr": "abs(datum.value - round(datum.value)) < 0.001 ? (abs(datum.value) < 0.001 ? '0' : (datum.value < 0 ? '-' : '') + format(abs(round(datum.value)), '.1f')) : ''",
                 "title": "Senescent Log2 (FAIRE/input)", "titlePadding": 0}},
  "color": {"datum": "All repeats", "type": "nominal",
            "scale": {"domain": ["All repeats", "L1 all", "L1H, L1PA", "Alu", "SVA", "Satellites"], "range": ["#d0d0d0", "#0a0ae6", "#2ef2f2", "#b922b0", "#ff2200", "#1ef01e"]},
            "legend": {"orient": "none", "legendX": 16, "legendY": 18, "title": null, "symbolSize": 230, "symbolType": "circle", "labelFontSize": 18, "rowPadding": 5, "labelOffset": 9, "symbolStrokeWidth": 0, "symbolOpacity": 1, "padding": 0}}
 }},
{"data": {"name": "shade"}, "mark": {"type": "area", "color": "#fff050", "opacity": 0.2},
 "encoding": {
  "x": {"field": "x", "type": "quantitative", "scale": {"domain": [-3, 2], "nice": false, "zero": false}, "axis": null},
  "y": {"field": "y", "type": "quantitative", "scale": {"domain": [-2, 2], "nice": false, "zero": false}, "axis": null},
  "y2": {"field": "y2"}
 }},
{"data": {"name": "fam"}, "mark": {"type": "circle", "size": 115, "opacity": 1},
 "encoding": {
  "x": {"field": "x", "type": "quantitative", "scale": {"domain": [-3, 2], "nice": false, "zero": false}, "axis": null},
  "y": {"field": "y", "type": "quantitative", "scale": {"domain": [-2, 2], "nice": false, "zero": false}, "axis": null},
  "color": {"field": "t", "type": "nominal",
            "scale": {"domain": ["All repeats", "L1 all", "L1H, L1PA", "Alu", "SVA", "Satellites"], "range": ["#d0d0d0", "#0a0ae6", "#2ef2f2", "#b922b0", "#ff2200", "#1ef01e"]},
            "legend": {"orient": "none", "legendX": 16, "legendY": 18, "title": null, "symbolSize": 230, "symbolType": "circle", "labelFontSize": 18, "rowPadding": 5, "labelOffset": 9, "symbolStrokeWidth": 0, "symbolOpacity": 1, "padding": 0}}
 }},
{"data": {"name": "vg"}, "mark": {"type": "rule", "color": "#333333", "strokeWidth": 3.5, "strokeDash": [1.5, 4.7]},
 "encoding": {"x": {"field": "x", "type": "quantitative", "scale": {"domain": [-3, 2], "nice": false, "zero": false}, "axis": null}}},
{"data": {"name": "hg"}, "mark": {"type": "rule", "color": "#333333", "strokeWidth": 3.5, "strokeDash": [1.5, 4.7]},
 "encoding": {"y": {"field": "y", "type": "quantitative", "scale": {"domain": [-2, 2], "nice": false, "zero": false}, "axis": null}}},
{"data": {"name": "vg"}, "transform": [{"filter": "datum.x == 0"}], "mark": {"type": "rule", "color": "#222222", "strokeWidth": 1.3},
 "encoding": {"x": {"field": "x", "type": "quantitative", "scale": {"domain": [-3, 2], "nice": false, "zero": false}, "axis": null}}},
{"data": {"name": "hg"}, "transform": [{"filter": "datum.y == 0"}], "mark": {"type": "rule", "color": "#222222", "strokeWidth": 1.3},
 "encoding": {"y": {"field": "y", "type": "quantitative", "scale": {"domain": [-2, 2], "nice": false, "zero": false}, "axis": null}}},
{"data": {"name": "diag"}, "mark": {"type": "rule", "color": "#111111", "strokeWidth": 1},
 "encoding": {
  "x": {"field": "x", "type": "quantitative", "scale": {"domain": [-3, 2], "nice": false, "zero": false},
        "axis": {"orient": "top", "tickCount": 100, "tickSize": -5, "labels": false, "title": null}},
  "y": {"field": "y", "type": "quantitative", "scale": {"domain": [-2, 2], "nice": false, "zero": false},
        "axis": {"orient": "right", "tickCount": 80, "tickSize": -5, "labels": false, "title": null}},
  "x2": {"field": "x2"}, "y2": {"field": "y2"}
 }}
]
}
]
},
{
"spacing": 20,
"resolve": {"scale": {"color": "independent"}, "legend": {"color": "independent"}},
"hconcat": [
{
"title": {"text": "(B)", "offset": -18.5},
"resolve": {"scale": {"color": "independent"}, "legend": {"color": "independent"}},
"hconcat": [
{
"title": {"text": "FAIRE dot blot", "fontWeight": "normal", "dx": 39, "offset": 14},
"spacing": 6,
"resolve": {"scale": {"color": "independent"}, "legend": {"color": "independent"}},
"hconcat": [
{"width": 80, "height": 257, "data": {"name": "bars"}, "transform": [{"filter": "datum.p == 'B1'"}],
 "encoding": {
  "x": {"field": "rep", "type": "nominal", "scale": {"paddingInner": 0, "paddingOuter": 0.1}, "axis": {"title": null, "ticks": false, "labelAngle": 0, "labelFontSize": 18, "labelPadding": 8}},
  "xOffset": {"field": "cond", "type": "nominal", "sort": ["early", "sen", "late sen"], "scale": {"paddingInner": 0.22, "paddingOuter": 0.1}}
 },
 "layer": [
  {"mark": {"type": "rule", "color": "#222222", "strokeWidth": 1.2},
   "encoding": {"y": {"field": "v", "type": "quantitative", "scale": {"domain": [0, 7], "nice": false},
     "axis": {"values": [0, 1, 2, 3, 4, 5, 6, 7], "labelExpr": "datum.value == 0 ? '0' : format(datum.value, '.1f')", "tickSize": -7, "labelPadding": 10, "labelFlush": false, "labelOverlap": false, "title": "Relative enrichment", "titlePadding": 10}},
     "y2": {"field": "hi"}}},
  {"mark": {"type": "tick", "color": "#222222", "thickness": 1.2, "size": 12},
   "encoding": {"y": {"field": "hi", "type": "quantitative", "scale": {"domain": [0, 7], "nice": false},
     "axis": {"values": [0, 1, 2, 3, 4, 5, 6, 7], "labelExpr": "datum.value == 0 ? '0' : format(datum.value, '.1f')", "tickSize": -7, "labelPadding": 10, "labelFlush": false, "labelOverlap": false, "title": "Relative enrichment", "titlePadding": 10}}}},
  {"mark": {"type": "bar"},
   "encoding": {"y": {"field": "v", "type": "quantitative", "scale": {"domain": [0, 7], "nice": false},
     "axis": {"values": [0, 1, 2, 3, 4, 5, 6, 7], "labelExpr": "datum.value == 0 ? '0' : format(datum.value, '.1f')", "tickSize": -7, "labelPadding": 10, "labelFlush": false, "labelOverlap": false, "title": "Relative enrichment", "titlePadding": 10}},
     "color": {"field": "cond", "type": "nominal", "scale": {"domain": ["early", "sen"], "range": ["#1538ff", "#ff2600"]},
       "legend": {"orient": "top-left", "offset": 6, "padding": 0, "title": null, "symbolType": "square", "symbolSize": 121, "labelFontSize": 13.5, "rowPadding": 3, "labelOffset": 5, "symbolStrokeWidth": 0}}}}
 ]},
{"width": 80, "height": 257, "data": {"name": "bars"}, "transform": [{"filter": "datum.p == 'B2'"}],
 "encoding": {
  "x": {"field": "rep", "type": "nominal", "scale": {"paddingInner": 0, "paddingOuter": 0.1}, "axis": {"title": null, "ticks": false, "labelAngle": 0, "labelFontSize": 18, "labelPadding": 8}},
  "xOffset": {"field": "cond", "type": "nominal", "sort": ["early", "sen", "late sen"], "scale": {"paddingInner": 0.22, "paddingOuter": 0.1}}
 },
 "layer": [
  {"mark": {"type": "rule", "color": "#222222", "strokeWidth": 1.2},
   "encoding": {"y": {"field": "v", "type": "quantitative", "scale": {"domain": [0, 3], "nice": false},
     "axis": {"values": [0, 0.5, 1, 1.5, 2, 2.5, 3], "labelExpr": "datum.value % 1 != 0 ? '' : datum.value == 0 ? '0' : format(datum.value, '.1f')", "tickSize": -7, "labelPadding": 10, "labelFlush": false, "labelOverlap": false, "title": null}},
     "y2": {"field": "hi"}}},
  {"mark": {"type": "tick", "color": "#222222", "thickness": 1.2, "size": 12},
   "encoding": {"y": {"field": "hi", "type": "quantitative", "scale": {"domain": [0, 3], "nice": false},
     "axis": {"values": [0, 0.5, 1, 1.5, 2, 2.5, 3], "labelExpr": "datum.value % 1 != 0 ? '' : datum.value == 0 ? '0' : format(datum.value, '.1f')", "tickSize": -7, "labelPadding": 10, "labelFlush": false, "labelOverlap": false, "title": null}}}},
  {"mark": {"type": "bar"},
   "encoding": {"y": {"field": "v", "type": "quantitative", "scale": {"domain": [0, 3], "nice": false},
     "axis": {"values": [0, 0.5, 1, 1.5, 2, 2.5, 3], "labelExpr": "datum.value % 1 != 0 ? '' : datum.value == 0 ? '0' : format(datum.value, '.1f')", "tickSize": -7, "labelPadding": 10, "labelFlush": false, "labelOverlap": false, "title": null}},
     "color": {"field": "cond", "type": "nominal", "scale": {"domain": ["early", "sen"], "range": ["#1538ff", "#ff2600"]},
       "legend": {"orient": "top-left", "offset": 6, "padding": 0, "title": null, "symbolType": "square", "symbolSize": 121, "labelFontSize": 13.5, "rowPadding": 3, "labelOffset": 5, "symbolStrokeWidth": 0}}}}
 ]}
]
}
]
},
{
"title": {"text": "(C)", "offset": -18.5},
"resolve": {"scale": {"color": "independent"}, "legend": {"color": "independent"}},
"hconcat": [
{
"title": {"text": "RNA expression", "fontWeight": "normal", "dx": 39, "offset": 14},
"spacing": 6,
"resolve": {"scale": {"color": "independent"}, "legend": {"color": "independent"}},
"hconcat": [
{"width": 79, "height": 257, "data": {"name": "bars"}, "transform": [{"filter": "datum.p == 'C1'"}],
 "encoding": {
  "x": {"field": "rep", "type": "nominal", "scale": {"paddingInner": 0, "paddingOuter": 0.1}, "axis": {"title": null, "ticks": false, "labelAngle": 0, "labelFontSize": 18, "labelPadding": 8}},
  "xOffset": {"field": "cond", "type": "nominal", "sort": ["early", "sen", "late sen"], "scale": {"paddingInner": 0.22, "paddingOuter": 0.1}}
 },
 "layer": [
  {"mark": {"type": "rule", "color": "#222222", "strokeWidth": 1.2},
   "encoding": {"y": {"field": "v", "type": "quantitative", "scale": {"domain": [0, 12], "nice": false},
     "axis": {"values": [0, 1, 2, 3, 4, 5, 6, 7, 8, 9, 10, 11, 12], "labelExpr": "datum.value % 2 != 0 ? '' : datum.value == 0 ? '0' : format(datum.value, '.1f')", "tickSize": -7, "labelPadding": 10, "labelFlush": false, "labelOverlap": false, "title": "Relative expression", "titlePadding": 10}},
     "y2": {"field": "hi"}}},
  {"mark": {"type": "tick", "color": "#222222", "thickness": 1.2, "size": 12},
   "encoding": {"y": {"field": "hi", "type": "quantitative", "scale": {"domain": [0, 12], "nice": false},
     "axis": {"values": [0, 1, 2, 3, 4, 5, 6, 7, 8, 9, 10, 11, 12], "labelExpr": "datum.value % 2 != 0 ? '' : datum.value == 0 ? '0' : format(datum.value, '.1f')", "tickSize": -7, "labelPadding": 10, "labelFlush": false, "labelOverlap": false, "title": "Relative expression", "titlePadding": 10}}}},
  {"mark": {"type": "bar"},
   "encoding": {"y": {"field": "v", "type": "quantitative", "scale": {"domain": [0, 12], "nice": false},
     "axis": {"values": [0, 1, 2, 3, 4, 5, 6, 7, 8, 9, 10, 11, 12], "labelExpr": "datum.value % 2 != 0 ? '' : datum.value == 0 ? '0' : format(datum.value, '.1f')", "tickSize": -7, "labelPadding": 10, "labelFlush": false, "labelOverlap": false, "title": "Relative expression", "titlePadding": 10}},
     "color": {"field": "cond", "type": "nominal", "scale": {"domain": ["early", "sen"], "range": ["#1538ff", "#ff2600"]},
       "legend": {"orient": "top-left", "offset": 6, "padding": 0, "title": null, "symbolType": "square", "symbolSize": 121, "labelFontSize": 13.5, "rowPadding": 3, "labelOffset": 5, "symbolStrokeWidth": 0}}}}
 ]},
{"width": 80, "height": 257, "data": {"name": "bars"}, "transform": [{"filter": "datum.p == 'C2'"}],
 "encoding": {
  "x": {"field": "rep", "type": "nominal", "scale": {"paddingInner": 0, "paddingOuter": 0.1}, "axis": {"title": null, "ticks": false, "labelAngle": 0, "labelFontSize": 18, "labelPadding": 8}},
  "xOffset": {"field": "cond", "type": "nominal", "sort": ["early", "sen", "late sen"], "scale": {"paddingInner": 0.22, "paddingOuter": 0.1}}
 },
 "layer": [
  {"mark": {"type": "rule", "color": "#222222", "strokeWidth": 1.2},
   "encoding": {"y": {"field": "v", "type": "quantitative", "scale": {"domain": [0, 5], "nice": false},
     "axis": {"values": [0, 1, 2, 3, 4, 5], "labelExpr": "datum.value == 0 ? '0' : format(datum.value, '.1f')", "tickSize": -7, "labelPadding": 10, "labelFlush": false, "labelOverlap": false, "title": null}},
     "y2": {"field": "hi"}}},
  {"mark": {"type": "tick", "color": "#222222", "thickness": 1.2, "size": 12},
   "encoding": {"y": {"field": "hi", "type": "quantitative", "scale": {"domain": [0, 5], "nice": false},
     "axis": {"values": [0, 1, 2, 3, 4, 5], "labelExpr": "datum.value == 0 ? '0' : format(datum.value, '.1f')", "tickSize": -7, "labelPadding": 10, "labelFlush": false, "labelOverlap": false, "title": null}}}},
  {"mark": {"type": "bar"},
   "encoding": {"y": {"field": "v", "type": "quantitative", "scale": {"domain": [0, 5], "nice": false},
     "axis": {"values": [0, 1, 2, 3, 4, 5], "labelExpr": "datum.value == 0 ? '0' : format(datum.value, '.1f')", "tickSize": -7, "labelPadding": 10, "labelFlush": false, "labelOverlap": false, "title": null}},
     "color": {"field": "cond", "type": "nominal", "scale": {"domain": ["early", "sen"], "range": ["#1538ff", "#ff2600"]},
       "legend": {"orient": "top-left", "offset": 6, "padding": 0, "title": null, "symbolType": "square", "symbolSize": 121, "labelFontSize": 13.5, "rowPadding": 3, "labelOffset": 5, "symbolStrokeWidth": 0}}}}
 ]}
]
}
]
},
{
"title": {"text": "(D)", "offset": -18.5},
"resolve": {"scale": {"color": "independent"}, "legend": {"color": "independent"}},
"hconcat": [
{"width": 115, "height": 257, "data": {"name": "bars"}, "transform": [{"filter": "datum.p == 'D'"}],
 "title": {"text": "Transposition", "fontWeight": "normal", "dx": 39, "offset": 14},
 "encoding": {
  "x": {"field": "rep", "type": "nominal", "scale": {"paddingInner": 0, "paddingOuter": 0.06}, "axis": {"title": null, "ticks": false, "labelAngle": 0, "labelFontSize": 18, "labelPadding": 8}},
  "xOffset": {"field": "cond", "type": "nominal", "sort": ["early", "sen", "late sen"], "scale": {"paddingInner": 0.2, "paddingOuter": 0.06}}
 },
 "layer": [
  {"mark": {"type": "rule", "color": "#222222", "strokeWidth": 1.2},
   "encoding": {"y": {"field": "v", "type": "quantitative", "scale": {"domain": [0, 16], "nice": false},
     "axis": {"values": [0, 2, 4, 6, 8, 10, 12, 14, 16], "labelExpr": "datum.value % 4 != 0 ? '' : datum.value == 0 ? '0' : format(datum.value, '.1f')", "tickSize": -7, "labelPadding": 10, "labelFlush": false, "labelOverlap": false, "title": "Relative copy number", "titlePadding": 10}},
     "y2": {"field": "hi"}}},
  {"mark": {"type": "tick", "color": "#222222", "thickness": 1.2, "size": 12},
   "encoding": {"y": {"field": "hi", "type": "quantitative", "scale": {"domain": [0, 16], "nice": false},
     "axis": {"values": [0, 2, 4, 6, 8, 10, 12, 14, 16], "labelExpr": "datum.value % 4 != 0 ? '' : datum.value == 0 ? '0' : format(datum.value, '.1f')", "tickSize": -7, "labelPadding": 10, "labelFlush": false, "labelOverlap": false, "title": "Relative copy number", "titlePadding": 10}}}},
  {"mark": {"type": "bar"},
   "encoding": {"y": {"field": "v", "type": "quantitative", "scale": {"domain": [0, 16], "nice": false},
     "axis": {"values": [0, 2, 4, 6, 8, 10, 12, 14, 16], "labelExpr": "datum.value % 4 != 0 ? '' : datum.value == 0 ? '0' : format(datum.value, '.1f')", "tickSize": -7, "labelPadding": 10, "labelFlush": false, "labelOverlap": false, "title": "Relative copy number", "titlePadding": 10}},
     "color": {"field": "cond", "type": "nominal", "scale": {"domain": ["early", "sen", "late sen"], "range": ["#1538ff", "#ff2600", "#ff10ff"]},
       "legend": {"orient": "top-left", "offset": 6, "padding": 0, "title": null, "symbolType": "square", "symbolSize": 121, "labelFontSize": 13.5, "rowPadding": 3, "labelOffset": 5, "symbolStrokeWidth": 0}}}}
 ]}
]
}
]
}
],
"config": {
  "font": "Liberation Sans",
  "view": {"stroke": "#333333", "strokeWidth": 1.5},
  "axis": {"domain": false, "grid": false, "labelColor": "#000000", "titleColor": "#000000", "labelFontSize": 16, "titleFontSize": 18.5, "titleFontWeight": "normal", "tickColor": "#333333", "tickWidth": 1},
  "title": {"fontSize": 18.5, "fontWeight": "bold", "anchor": "start", "frame": "bounds", "color": "#000000", "baseline": "top"},
  "legend": {"labelColor": "#000000"}
}
}
